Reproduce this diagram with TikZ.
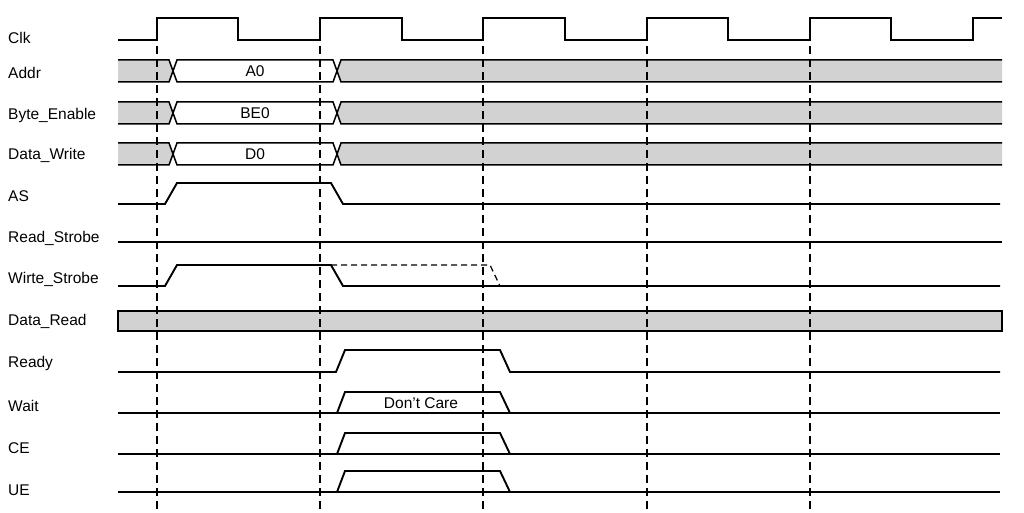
\documentclass[tikz,border=0pt]{standalone}
\usepackage{fontspec}
\setmainfont{Liberation Sans}
\begin{document}
\begin{tikzpicture}[x=1pt,y=-1pt,
  sig/.style={line width=1.9pt,line join=miter},
  grid/.style={line width=2pt,dash pattern=on 8pt off 5pt},
  lbl/.style={anchor=west,font=\fontsize{15.5}{17}\selectfont,inner sep=0pt},
  bus/.style={draw,line width=1.5pt,fill=gray!35},
  busw/.style={draw,line width=1.5pt,fill=white}]
\useasboundingbox (0,0) rectangle (1024,513);
% labels
\node[lbl] (l1) at (8,38) {Clk};
\node[lbl] (l2) at (8,73) {Addr};
\node[lbl] (l3) at (8,115) {Byte\_Enable};
\node[lbl] (l4) at (8,155) {Data\_Write};
\node[lbl] (l5) at (8,196) {AS};
\node[lbl] (l6) at (8,238) {Read\_Strobe};
\node[lbl] (l7) at (8,279) {Wirte\_Strobe};
\node[lbl] (l8) at (8,321) {Data\_Read};
\node[lbl] (l9) at (8,363) {Ready};
\node[lbl] (l10) at (8,406) {Wait};
\node[lbl] (l11) at (8,448) {CE};
\node[lbl] (l12) at (8,490) {UE};
% clock
\draw[sig] (118,40) -- (157,40) -- (157,18) -- (238,18) -- (238,40) -- (320,40) -- (320,18) -- (402,18) -- (402,40) -- (483,40) -- (483,18) -- (565,18) -- (565,40) -- (647,40) -- (647,18) -- (728,18) -- (728,40) -- (810,40) -- (810,18) -- (891,18) -- (891,40) -- (973,40) -- (973,18) -- (1002,18);
% buses
\foreach \c/\t in {71/A0,113/BE0,154/D0}{
  \draw[bus] (118,\c-11) -- (169,\c-11) -- (173,\c) -- (169,\c+11) -- (118,\c+11);
  \draw[busw] (173,\c) -- (177,\c-11) -- (333,\c-11) -- (337,\c) -- (333,\c+11) -- (177,\c+11) -- cycle;
  \draw[bus] (1002,\c-11) -- (341,\c-11) -- (337,\c) -- (341,\c+11) -- (1002,\c+11);
  \node[font=\fontsize{15.5}{17}\selectfont] at (255,\c) {\t};
}
% AS
\draw[sig] (118,204) -- (165,204) -- (177,183) -- (331,183) -- (343,204) -- (1000,204);
% Read strobe
\draw[line width=2.4pt] (118,242) -- (1002,242);
% Write strobe
\draw[sig] (118,286) -- (165,286) -- (177,265) -- (331,265) -- (343,286) -- (1000,286);
\draw[line width=1.2pt,dash pattern=on 6pt off 4pt] (331,265) -- (490,265) -- (500,286);
% Data read
\draw[bus] (118,311) rectangle (1002,331);
% Ready
\draw[sig] (118,372) -- (336,372) -- (345,350) -- (500,350) -- (510,372) -- (1000,372);
% Wait, CE, UE
\foreach \y in {413,454,492}{
  \draw[sig] (118,\y) -- (1000,\y);
  \draw[sig] (337,\y) -- (345,\y-21) -- (500,\y-21) -- (510,\y);
}
\node[font=\fontsize{15.5}{17}\selectfont] at (421,403) {Don't Care};
% grid
\foreach \x in {157,320,483,647,810}{
  \draw[grid] (\x,46) -- (\x,510);
}
\end{tikzpicture}
\end{document}
